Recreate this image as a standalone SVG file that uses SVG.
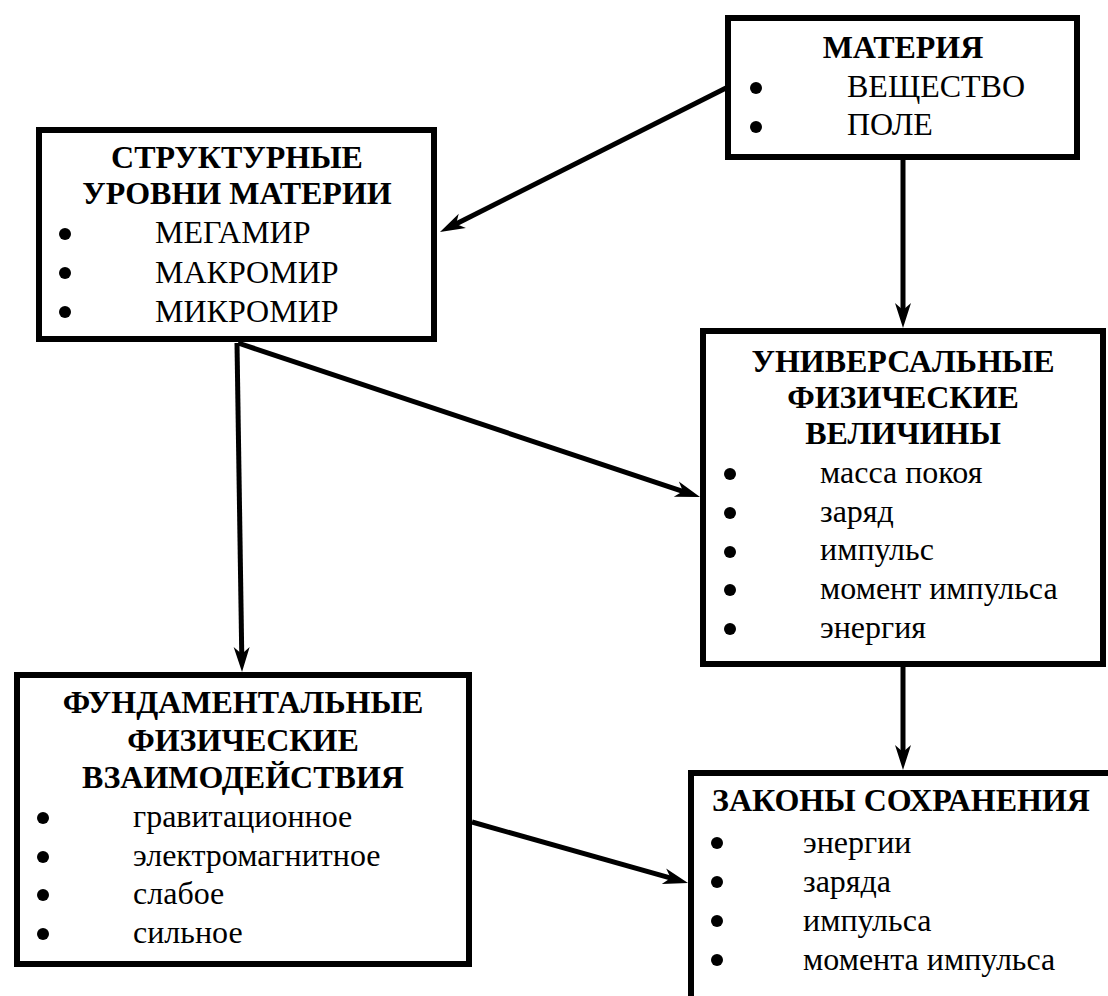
<svg xmlns="http://www.w3.org/2000/svg" width="1108" height="996" viewBox="0 0 1108 996">
<style>
.box{fill:#fff;stroke:#000;stroke-width:6}
.t{font-family:"Liberation Serif","Times New Roman",serif;font-size:32px;fill:#000}
.h{font-weight:bold;text-anchor:middle}
.b{fill:#000}
.c{stroke:#000;stroke-width:5;fill:none;marker-end:url(#ah)}
</style>
<defs>
<marker id="ah" markerUnits="userSpaceOnUse" viewBox="-12 -9 28 18" refX="0" refY="0" markerWidth="28" markerHeight="18" orient="auto" overflow="visible">
<path d="M15,0 L-10,-8 L-3,0 L-10,8 Z" fill="#000"/>
</marker>
</defs>
<rect x="0" y="0" width="1108" height="996" fill="#fff"/>
<g id="connectors">
<line class="c" x1="726" y1="88" x2="453.4" y2="225.3"/>
<line class="c" x1="903" y1="160" x2="903" y2="313"/>
<line class="c" x1="238" y1="343" x2="685.8" y2="492.3"/>
<line class="c" x1="237" y1="343" x2="241.8" y2="657"/>
<line class="c" x1="903" y1="667" x2="903" y2="755"/>
<line class="c" x1="472" y1="822" x2="673.6" y2="878.9"/>
</g>
<g id="materia">
<rect class="box" x="728" y="18" width="349" height="139"/>
<text class="t h" x="903" y="58">МАТЕРИЯ</text>
<circle class="b" cx="756" cy="88" r="6"/>
<circle class="b" cx="756" cy="127" r="6"/>
<text class="t" x="847" y="97">ВЕЩЕСТВО</text>
<text class="t" x="847" y="135">ПОЛЕ</text>
</g>
<g id="levels">
<rect class="box" x="39" y="130" width="395" height="209"/>
<text class="t h" x="237" y="168">СТРУКТУРНЫЕ</text>
<text class="t h" x="237" y="204">УРОВНИ МАТЕРИИ</text>
<circle class="b" cx="65" cy="234" r="6"/>
<circle class="b" cx="65" cy="273" r="6"/>
<circle class="b" cx="65" cy="312" r="6"/>
<text class="t" x="155" y="243">МЕГАМИР</text>
<text class="t" x="155" y="283">МАКРОМИР</text>
<text class="t" x="155" y="322">МИКРОМИР</text>
</g>
<g id="quantities">
<rect class="box" x="703" y="331" width="400" height="333"/>
<text class="t h" x="903" y="372">УНИВЕРСАЛЬНЫЕ</text>
<text class="t h" x="903" y="408">ФИЗИЧЕСКИЕ</text>
<text class="t h" x="903" y="444">ВЕЛИЧИНЫ</text>
<circle class="b" cx="730" cy="474" r="6"/>
<circle class="b" cx="730" cy="513" r="6"/>
<circle class="b" cx="730" cy="552" r="6"/>
<circle class="b" cx="730" cy="590" r="6"/>
<circle class="b" cx="730" cy="629" r="6"/>
<text class="t" x="820" y="483">масса покоя</text>
<text class="t" x="820" y="522">заряд</text>
<text class="t" x="820" y="560">импульс</text>
<text class="t" x="820" y="599">момент импульса</text>
<text class="t" x="820" y="638">энергия</text>
</g>
<g id="interactions">
<rect class="box" x="17" y="675" width="452" height="289"/>
<text class="t h" x="243" y="713">ФУНДАМЕНТАЛЬНЫЕ</text>
<text class="t h" x="243" y="751">ФИЗИЧЕСКИЕ</text>
<text class="t h" x="243" y="788">ВЗАИМОДЕЙСТВИЯ</text>
<circle class="b" cx="43" cy="818" r="6"/>
<circle class="b" cx="43" cy="857" r="6"/>
<circle class="b" cx="43" cy="895" r="6"/>
<circle class="b" cx="43" cy="934" r="6"/>
<text class="t" x="133" y="827">гравитационное</text>
<text class="t" x="133" y="866">электромагнитное</text>
<text class="t" x="133" y="904">слабое</text>
<text class="t" x="133" y="943">сильное</text>
</g>
<g id="laws">
<rect class="box" x="691" y="773" width="440" height="260"/>
<text class="t h" x="901" y="811">ЗАКОНЫ СОХРАНЕНИЯ</text>
<circle class="b" cx="717" cy="843" r="6"/>
<circle class="b" cx="717" cy="882" r="6"/>
<circle class="b" cx="717" cy="921" r="6"/>
<circle class="b" cx="717" cy="960" r="6"/>
<text class="t" x="803" y="853">энергии</text>
<text class="t" x="803" y="892">заряда</text>
<text class="t" x="803" y="931">импульса</text>
<text class="t" x="803" y="970">момента импульса</text>
</g>
</svg>
